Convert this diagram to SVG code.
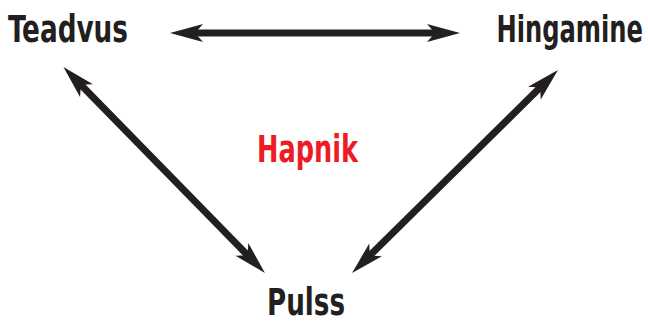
<svg xmlns="http://www.w3.org/2000/svg" width="648" height="324" viewBox="0 0 648 324">
<style>
.lbl{font-family:"Liberation Sans Narrow","DejaVu Sans Condensed","Liberation Sans",sans-serif;font-weight:bold;font-size:37px;fill:#231f20;font-stretch:condensed}
.red{fill:#ed1c24}
.con{stroke:#231f20;stroke-width:7;fill:none}
</style>
<defs>
<marker id="ah" markerUnits="userSpaceOnUse" markerWidth="40" markerHeight="24" refX="13" refY="9" orient="auto-start-reverse" overflow="visible">
<path d="M0,0 L33,9 L0,18 L8,9 Z" fill="#231f20"/>
</marker>
</defs>
<rect width="648" height="324" fill="#fff"/>
<g id="connectors">
<line class="con" x1="190" y1="33" x2="440" y2="33" marker-start="url(#ah)" marker-end="url(#ah)"/>
<line class="con" x1="77.4" y1="81.3" x2="251" y2="258.7" marker-start="url(#ah)" marker-end="url(#ah)"/>
<line class="con" x1="543.7" y1="84" x2="366.3" y2="259" marker-start="url(#ah)" marker-end="url(#ah)"/>
</g>
<g id="teadvus"><text class="lbl" x="8" y="42" textLength="120" lengthAdjust="spacingAndGlyphs">Teadvus</text></g>
<g id="hingamine"><text class="lbl" transform="translate(643,42) scale(0.727,1)" x="0" y="0" text-anchor="end">Hingamine</text></g>
<g id="hapnik"><text class="lbl red" x="257" y="162" textLength="101" lengthAdjust="spacingAndGlyphs">Hapnik</text></g>
<g id="pulss"><text class="lbl" x="267" y="315" textLength="78" lengthAdjust="spacingAndGlyphs">Pulss</text></g>
</svg>
